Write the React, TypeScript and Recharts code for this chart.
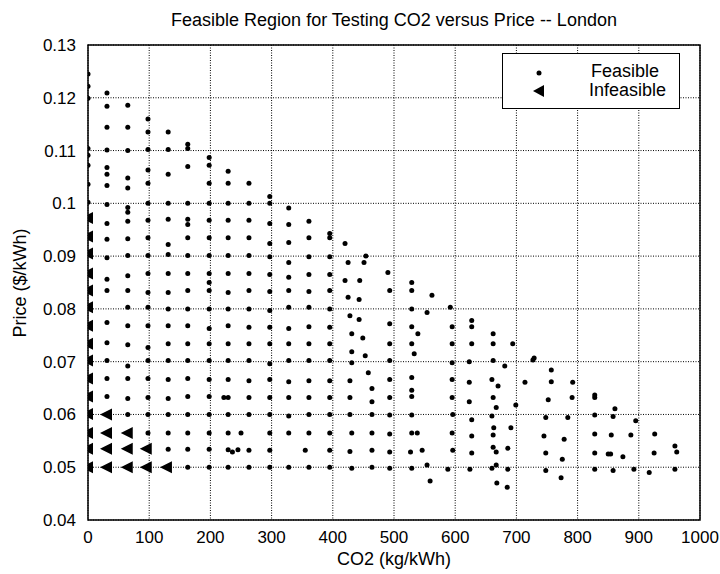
import React from 'react';
import { ScatterChart, Scatter, XAxis, YAxis, CartesianGrid, ReferenceArea } from 'recharts';

// [CO2 (kg/kWh), price ($/kWh)], column by column
const feasible: [number, number][] = [
    [0, 0.1245], [0, 0.1222], [0, 0.1199], [0, 0.1104], [0, 0.1091], [0, 0.1072], [0, 0.1036], [0, 0.1002],
    [31, 0.1209], [31, 0.1184], [31, 0.1144], [31, 0.1101], [31, 0.1068], [31, 0.1055], [31, 0.1034], [31, 0.0998], [31, 0.0962],
    [31, 0.0932], [31, 0.0897], [31, 0.0856], [31, 0.0835], [31, 0.0774], [31, 0.0736], [31, 0.0702], [31, 0.0668], [31, 0.0634],
    [65, 0.1186], [65, 0.1144], [65, 0.11], [65, 0.1048], [65, 0.1029], [65, 0.0992], [65, 0.0983], [65, 0.0966], [65, 0.0933],
    [65, 0.0901], [65, 0.0863], [65, 0.0835], [65, 0.0803], [65, 0.0768], [65, 0.0732], [65, 0.0692], [65, 0.0668], [65, 0.063], [65, 0.06],
    [98, 0.116], [98, 0.1135], [98, 0.1102], [98, 0.1063], [98, 0.1038], [98, 0.1], [98, 0.0968], [98, 0.0935], [98, 0.0901], [98, 0.0867],
    [98, 0.0831], [98, 0.0803], [98, 0.0768], [98, 0.0727], [98, 0.0702], [98, 0.0668], [98, 0.0632], [98, 0.06], [98, 0.0565],
    [131, 0.1135], [131, 0.1102], [131, 0.1055], [131, 0.1], [131, 0.097], [131, 0.0922], [131, 0.0903], [131, 0.0867], [131, 0.0831],
    [131, 0.08], [131, 0.0768], [131, 0.0734], [131, 0.0702], [131, 0.0666], [131, 0.063], [131, 0.06], [131, 0.0565], [131, 0.0534],
    [163, 0.1112], [163, 0.1104], [163, 0.107], [163, 0.1], [163, 0.097], [163, 0.096], [163, 0.0935], [163, 0.0901], [163, 0.0867], [163, 0.0835],
    [163, 0.08], [163, 0.0768], [163, 0.0734], [163, 0.0702], [163, 0.0668], [163, 0.0634], [163, 0.06], [163, 0.0565], [163, 0.0534], [163, 0.05],
    [198, 0.1087], [198, 0.1072], [198, 0.1038], [198, 0.1], [198, 0.0968], [198, 0.0935], [198, 0.0901], [198, 0.0867], [198, 0.085], [198, 0.0835],
    [198, 0.08], [198, 0.0763], [198, 0.0734], [198, 0.0702], [198, 0.0666], [198, 0.0634], [198, 0.06], [198, 0.0565], [198, 0.0534], [198, 0.05],
    [229, 0.1061], [229, 0.1038], [229, 0.1], [229, 0.0968], [229, 0.0935], [229, 0.0901], [229, 0.0867], [229, 0.0831], [229, 0.08],
    [229, 0.0768], [229, 0.0734], [229, 0.0702], [229, 0.0666], [229, 0.0632], [229, 0.06], [229, 0.0565], [229, 0.0533], [229, 0.05],
    [222, 0.0632], [236, 0.0529], [245, 0.0533], [250, 0.0565],
    [263, 0.1038], [263, 0.1], [263, 0.0968], [263, 0.0935], [263, 0.0901], [263, 0.0867], [263, 0.0835], [263, 0.08], [263, 0.0765],
    [263, 0.0734], [263, 0.0702], [263, 0.0664], [263, 0.0632], [263, 0.06], [263, 0.0532], [263, 0.05],
    [297, 0.1013], [297, 0.1], [297, 0.0962], [297, 0.0924], [297, 0.0899], [297, 0.0865], [297, 0.0833], [297, 0.0797], [297, 0.0765],
    [297, 0.0734], [297, 0.0696], [297, 0.0666], [297, 0.0632], [297, 0.06], [297, 0.0565], [297, 0.0532], [297, 0.05],
    [328, 0.0991], [328, 0.096], [328, 0.0926], [328, 0.0888], [328, 0.086], [328, 0.0835], [328, 0.0803], [328, 0.0763], [328, 0.0734],
    [328, 0.0702], [328, 0.0662], [328, 0.0632], [328, 0.0597], [328, 0.0565], [328, 0.05],
    [361, 0.0966], [361, 0.0935], [361, 0.0899], [361, 0.0865], [361, 0.0833], [361, 0.0803], [361, 0.0766], [361, 0.0734], [361, 0.0702],
    [361, 0.0664], [361, 0.0632], [361, 0.06], [361, 0.0565], [361, 0.05], [355, 0.0532],
    [395, 0.0943], [395, 0.0935], [395, 0.0899], [395, 0.0865], [395, 0.0835], [395, 0.08], [395, 0.0765], [395, 0.0734], [395, 0.0702],
    [395, 0.0664], [395, 0.0632], [395, 0.06], [395, 0.0565], [395, 0.0532], [395, 0.05],
    [420, 0.0924], [425, 0.0888], [420, 0.0854], [425, 0.0822], [428, 0.0787], [431, 0.0753], [431, 0.0719], [431, 0.0698], [428, 0.0664],
    [428, 0.0632], [428, 0.06], [431, 0.0565], [428, 0.053], [431, 0.0498],
    [454, 0.09], [451, 0.0888], [444, 0.0854], [443, 0.0818], [443, 0.078], [449, 0.0745], [453, 0.0711], [458, 0.0679], [464, 0.0649],
    [464, 0.0624], [464, 0.06], [464, 0.0565], [464, 0.0532], [464, 0.05],
    [490, 0.0869], [493, 0.0835], [493, 0.0772], [493, 0.0734], [493, 0.0702], [493, 0.0666], [493, 0.0632], [493, 0.0599], [493, 0.0563],
    [493, 0.0529], [493, 0.0498],
    [529, 0.085], [529, 0.0835], [529, 0.08], [529, 0.0766], [539, 0.0753], [529, 0.0734], [533, 0.0715], [529, 0.067], [529, 0.0646],
    [529, 0.0634], [529, 0.0599], [529, 0.0565], [538, 0.0565], [527, 0.0529], [546, 0.0532], [529, 0.0498], [554, 0.0504], [559, 0.0474],
    [562, 0.0826], [554, 0.0793],
    [592, 0.0803], [595, 0.0766], [595, 0.0734], [595, 0.0698], [595, 0.0666], [595, 0.0632], [596, 0.06], [595, 0.0565], [596, 0.0532], [588, 0.0496],
    [627, 0.0778], [627, 0.0766], [627, 0.0734], [623, 0.07], [623, 0.0661], [623, 0.0624], [627, 0.059], [627, 0.0559], [627, 0.0527], [624, 0.0496],
    [662, 0.0753], [662, 0.0734], [662, 0.0702], [660, 0.0666], [670, 0.0654], [662, 0.0632], [667, 0.0613], [660, 0.0597], [663, 0.0575],
    [662, 0.0561], [662, 0.0538], [667, 0.0529], [660, 0.0498], [667, 0.0504], [668, 0.047],
    [694, 0.0734], [681, 0.0692], [699, 0.0618], [691, 0.0575], [686, 0.0536], [686, 0.0496], [685, 0.0462],
    [714, 0.0661], [727, 0.0703], [729, 0.0707],
    [757, 0.0684], [757, 0.0662], [752, 0.0628], [748, 0.0594], [745, 0.0559], [748, 0.0527], [748, 0.0494],
    [792, 0.0661], [791, 0.0632], [784, 0.0594], [778, 0.0553], [775, 0.0515], [773, 0.048],
    [828, 0.0637], [828, 0.0632], [828, 0.0599], [828, 0.0563], [828, 0.0527], [828, 0.0496],
    [861, 0.0611], [858, 0.0596], [855, 0.0561], [850, 0.0525], [854, 0.0525], [858, 0.0494],
    [895, 0.0588], [887, 0.0561], [874, 0.052], [892, 0.0496],
    [926, 0.0563], [925, 0.0527], [917, 0.049],
    [959, 0.054], [962, 0.0529], [959, 0.0496],
];

const infeasible: [number, number][] = [
    [0, 0.0972], [0, 0.0937], [0, 0.0905], [0, 0.0867], [0, 0.0835], [0, 0.0803], [0, 0.0768], [0, 0.0734],
    [0, 0.0702], [0, 0.0668], [0, 0.0634], [0, 0.0601], [0, 0.0565], [0, 0.0535], [0, 0.05],
    [31, 0.06], [31, 0.0565], [31, 0.0535], [31, 0.05],
    [65, 0.0565], [65, 0.0535], [65, 0.05],
    [96, 0.0535], [96, 0.05],
    [129, 0.05],
];

const xTicks = [0, 100, 200, 300, 400, 500, 600, 700, 800, 900, 1000];
const yTicks = [0.04, 0.05, 0.06, 0.07, 0.08, 0.09, 0.1, 0.11, 0.12, 0.13];

const FONT = '"Liberation Sans", Arial, Helvetica, sans-serif';

const Dot = (props: any) => <circle cx={props.cx} cy={props.cy} r={2.5} fill="#000" />;
const Tri = (props: any) => {
    const { cx, cy } = props;
    return <polygon points={`${cx - 7},${cy} ${cx + 5},${cy - 6} ${cx + 5},${cy + 6}`} fill="#000" />;
};

export default function App() {
    const feasData = feasible.map(([co2, price]) => ({ co2, price }));
    const infData = infeasible.map(([co2, price]) => ({ co2, price }));
    const tickStyle = { fill: '#000', fontSize: 17, fontFamily: FONT };

    return (
        <div style={{ position: 'absolute', left: 0, top: 0, width: 720, height: 574, background: '#fff', fontFamily: FONT }}>
            <ScatterChart width={720} height={574} margin={{ top: 45, right: 20, bottom: 24, left: 28 }}>
                <CartesianGrid stroke="#000" strokeDasharray="1 1.5" strokeWidth={1} />
                <XAxis
                    type="number"
                    dataKey="co2"
                    domain={[0, 1000]}
                    ticks={xTicks}
                    interval={0}
                    height={30}
                    tickLine={false}
                    axisLine={false}
                    tickMargin={5}
                    tick={tickStyle}
                    allowDataOverflow
                />
                <YAxis
                    type="number"
                    dataKey="price"
                    domain={[0.04, 0.13]}
                    ticks={yTicks}
                    interval={0}
                    width={60}
                    tickLine={false}
                    axisLine={false}
                    tickMargin={6}
                    tick={tickStyle}
                    tickFormatter={(v: number) => String(Number(v.toFixed(2)))}
                    allowDataOverflow
                />
                <ReferenceArea x1={0} x2={1000} y1={0.04} y2={0.13} fill="none" stroke="#000" strokeWidth={1.5} ifOverflow="visible" />
                <Scatter name="Feasible" data={feasData} shape={Dot} isAnimationActive={false} />
                <Scatter name="Infeasible" data={infData} shape={Tri} isAnimationActive={false} />
            </ScatterChart>

            <div style={{ position: 'absolute', left: 88, width: 612, top: 10, lineHeight: '20px', textAlign: 'center', fontSize: 18, color: '#000' }}>
                Feasible Region for Testing CO2 versus Price -- London
            </div>
            <div style={{ position: 'absolute', left: 88, width: 612, top: 550, lineHeight: '18px', textAlign: 'center', fontSize: 18, color: '#000' }}>
                CO2 (kg/kWh)
            </div>
            <div
                style={{
                    position: 'absolute', left: 20, top: 283, fontSize: 18, lineHeight: '18px', color: '#000', whiteSpace: 'nowrap',
                    transform: 'translate(-50%, -50%) rotate(-90deg)',
                }}
            >
                Price ($/kWh)
            </div>

            <div
                style={{
                    position: 'absolute', left: 502, top: 53, width: 178, height: 56, background: '#fff',
                    border: '1.5px solid #000', boxSizing: 'border-box', fontSize: 18, color: '#000',
                }}
            >
                <svg width={20} height={40} style={{ position: 'absolute', left: 26, top: 9 }}>
                    <circle cx={10} cy={10} r={2.5} fill="#000" />
                    <polygon points="4,28 15,22 15,34" fill="#000" />
                </svg>
                <div style={{ position: 'absolute', left: 88, top: 8, lineHeight: '19px' }}>Feasible</div>
                <div style={{ position: 'absolute', left: 86, top: 27, lineHeight: '19px' }}>Infeasible</div>
            </div>
        </div>
    );
}
